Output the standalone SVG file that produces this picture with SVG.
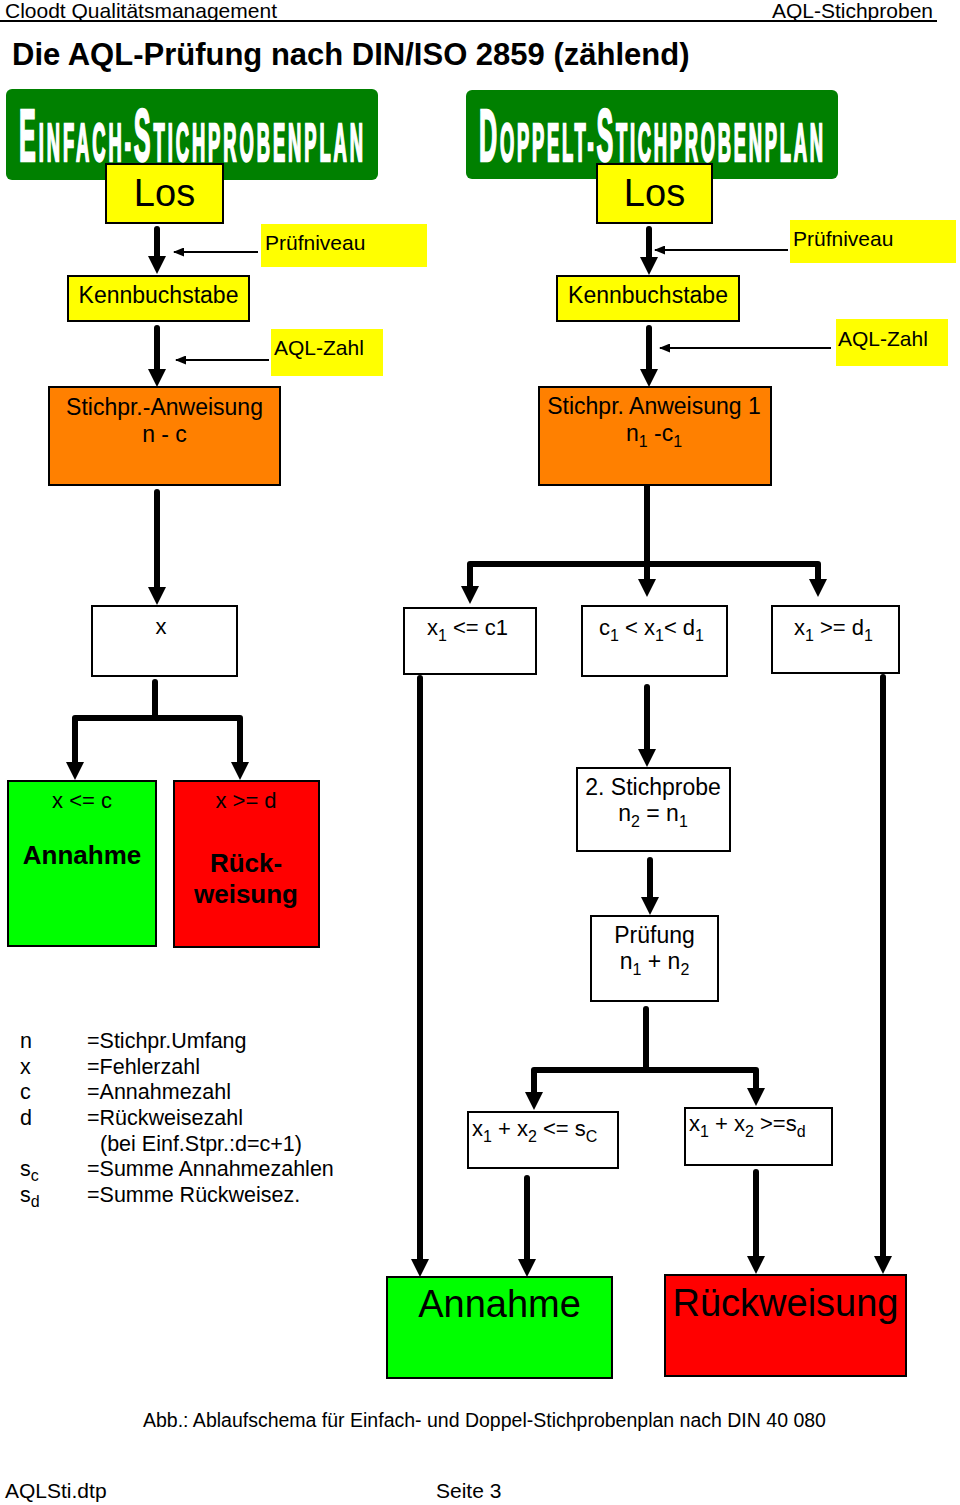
<svg xmlns="http://www.w3.org/2000/svg" width="960" height="1505" viewBox="0 0 960 1505">
<style>
text{font-family:"Liberation Sans",Arial,sans-serif;fill:#000}
.box{stroke:#000;stroke-width:2}
.yel{fill:#ffff00}
.org{fill:#ff8000}
.grn{fill:#00ff00}
.red{fill:#ff0000}
.wht{fill:#ffffff}
.thick{stroke:#000;stroke-width:6;fill:none;stroke-linecap:round;stroke-linejoin:round;marker-end:url(#ah)}
.bar{stroke:#000;stroke-width:6;fill:none;stroke-linecap:round;stroke-linejoin:round}
.thin{stroke:#000;stroke-width:2;fill:none;marker-end:url(#ahs)}
.t21{font-size:21px}
.t22{font-size:22px}
.t23{font-size:23px}
.t38{font-size:38px}
.b26{font-size:26px;font-weight:bold}
.mid{text-anchor:middle}
.sub{font-size:16px}
.ttl{fill:#fff;stroke:#fff;stroke-width:2.5;font-weight:bold}
</style>
<defs>
<marker id="ah" markerUnits="userSpaceOnUse" markerWidth="18" markerHeight="18" viewBox="0 0 18 18" refX="6" refY="9" orient="auto"><path d="M0,0 L18,9 L0,18 z" fill="#000"/></marker>
<marker id="ahs" markerUnits="userSpaceOnUse" markerWidth="11" markerHeight="9" viewBox="0 0 11 9" refX="10" refY="4.5" orient="auto"><path d="M0,0 L11,4.5 L0,9 z" fill="#000"/></marker>
</defs>
<rect width="960" height="1505" fill="#fff"/>

<g id="header">
<text class="t21" x="5" y="18">Cloodt Qualitätsmanagement</text>
<text class="t21" x="933" y="18" text-anchor="end">AQL-Stichproben</text>
<line x1="0" y1="21" x2="937" y2="21" stroke="#000" stroke-width="2"/>
<text x="12" y="65" font-size="31" font-weight="bold">Die AQL-Prüfung nach DIN/ISO 2859 (zählend)</text>
</g>

<g id="title-einfach">
<rect x="6" y="89" width="372" height="91" rx="6" fill="#008000"/>
<text class="ttl" transform="translate(19,161) scale(0.34,1)" textLength="1012" lengthAdjust="spacing"><tspan font-size="74">E</tspan><tspan font-size="54">INFACH-</tspan><tspan font-size="74">S</tspan><tspan font-size="54">TICHPROBENPLAN</tspan></text>
</g>
<g id="title-doppelt">
<rect x="466" y="90" width="372" height="89" rx="6" fill="#008000"/>
<text class="ttl" transform="translate(479,161) scale(0.34,1)" textLength="1012" lengthAdjust="spacing"><tspan font-size="74">D</tspan><tspan font-size="54">OPPELT-</tspan><tspan font-size="74">S</tspan><tspan font-size="54">TICHPROBENPLAN</tspan></text>
</g>

<g id="connectors">
<path class="thick" d="M157,229 V262"/>
<path class="thin" d="M258,252 H174"/>
<path class="thick" d="M157,328 V375"/>
<path class="thin" d="M269,360 H176"/>
<path class="thick" d="M157,492 V593"/>
<path class="bar" d="M155,682 V718"/>
<path class="thick" d="M155,718 H75 V768"/>
<path class="thick" d="M155,718 H240 V768"/>
<path class="thick" d="M649,229 V263"/>
<path class="thin" d="M788,250 H655"/>
<path class="thick" d="M649,328 V375"/>
<path class="thin" d="M831,348 H660"/>
<path class="thick" d="M647,485 V585"/>
<path class="thick" d="M647,564 H470 V592"/>
<path class="thick" d="M647,564 H818 V585"/>
<path class="thick" d="M420,678 V1265"/>
<path class="thick" d="M647,687 V755"/>
<path class="thick" d="M883,677 V1262"/>
<path class="thick" d="M650,860 V903"/>
<path class="bar" d="M646,1009 V1070"/>
<path class="thick" d="M646,1070 H534 V1098"/>
<path class="thick" d="M646,1070 H756 V1094"/>
<path class="thick" d="M527,1178 V1265"/>
<path class="thick" d="M756,1172 V1262"/>
</g>

<g id="los-l"><rect class="box yel" x="106" y="164" width="117" height="59"/><text class="t38 mid" x="164.5" y="206">Los</text></g>
<g id="los-r"><rect class="box yel" x="597" y="164" width="115" height="59"/><text class="t38 mid" x="654.5" y="206">Los</text></g>

<g id="pruefniveau-l"><rect class="yel" x="261" y="224" width="166" height="43"/><text class="t21" x="265" y="250">Prüfniveau</text></g>
<g id="pruefniveau-r"><rect class="yel" x="790" y="220" width="166" height="43"/><text class="t21" x="793" y="246">Prüfniveau</text></g>

<g id="kenn-l"><rect class="box yel" x="68" y="276" width="181" height="45"/><text class="t23 mid" x="158.5" y="303">Kennbuchstabe</text></g>
<g id="kenn-r"><rect class="box yel" x="557" y="276" width="182" height="45"/><text class="t23 mid" x="648" y="303">Kennbuchstabe</text></g>

<g id="aql-l"><rect class="yel" x="271" y="329" width="112" height="47"/><text class="t21" x="274" y="355">AQL-Zahl</text></g>
<g id="aql-r"><rect class="yel" x="836" y="319" width="112" height="47"/><text class="t21" x="838" y="346">AQL-Zahl</text></g>

<g id="anweisung-l"><rect class="box org" x="49" y="387" width="231" height="98"/>
<text class="t23 mid" x="164.5" y="415">Stichpr.-Anweisung</text>
<text class="t23 mid" x="164.5" y="442">n - c</text></g>
<g id="anweisung-r"><rect class="box org" x="539" y="387" width="232" height="98"/>
<text class="t23 mid" x="654" y="414">Stichpr. Anweisung 1</text>
<text class="t23 mid" x="654" y="441">n<tspan class="sub" dy="6">1</tspan><tspan dy="-6"> -c</tspan><tspan class="sub" dy="6">1</tspan></text></g>

<g id="x-box"><rect class="box wht" x="92" y="606" width="145" height="70"/><text class="t22 mid" x="161" y="634">x</text></g>
<g id="x1-le-c1"><rect class="box wht" x="404" y="608" width="132" height="66"/><text class="t22" x="427" y="635">x<tspan class="sub" dy="6">1</tspan><tspan dy="-6"> &lt;= c1</tspan></text></g>
<g id="c1-x1-d1"><rect class="box wht" x="582" y="606" width="145" height="70"/><text class="t22" x="599" y="635">c<tspan class="sub" dy="6">1</tspan><tspan dy="-6"> &lt; x</tspan><tspan class="sub" dy="6">1</tspan><tspan dy="-6">&lt; d</tspan><tspan class="sub" dy="6">1</tspan></text></g>
<g id="x1-ge-d1"><rect class="box wht" x="772" y="606" width="127" height="67"/><text class="t22" x="794" y="635">x<tspan class="sub" dy="6">1</tspan><tspan dy="-6"> &gt;= d</tspan><tspan class="sub" dy="6">1</tspan></text></g>

<g id="annahme-l"><rect class="box grn" x="8" y="781" width="148" height="165"/>
<text class="t22 mid" x="82" y="808">x &lt;= c</text>
<text class="b26 mid" x="82" y="864">Annahme</text></g>
<g id="rueck-l"><rect class="box red" x="174" y="781" width="145" height="166"/>
<text class="t22 mid" x="246" y="808">x &gt;= d</text>
<text class="b26 mid" x="246" y="872">Rück-</text>
<text class="b26 mid" x="246" y="903">weisung</text></g>

<g id="stichprobe2"><rect class="box wht" x="577" y="768" width="153" height="83"/>
<text class="t23 mid" x="653" y="795">2. Stichprobe</text>
<text class="t23 mid" x="653" y="821">n<tspan class="sub" dy="6">2</tspan><tspan dy="-6"> = n</tspan><tspan class="sub" dy="6">1</tspan></text></g>
<g id="pruefung"><rect class="box wht" x="591" y="916" width="127" height="85"/>
<text class="t23 mid" x="654.5" y="943">Prüfung</text>
<text class="t23 mid" x="654.5" y="969">n<tspan class="sub" dy="6">1</tspan><tspan dy="-6"> + n</tspan><tspan class="sub" dy="6">2</tspan></text></g>

<g id="sum-le-sc"><rect class="box wht" x="468" y="1112" width="150" height="56"/>
<text class="t22" x="472" y="1136">x<tspan class="sub" dy="6">1</tspan><tspan dy="-6"> + x</tspan><tspan class="sub" dy="6">2</tspan><tspan dy="-6"> &lt;= s</tspan><tspan class="sub" dy="6">C</tspan></text></g>
<g id="sum-ge-sd"><rect class="box wht" x="685" y="1108" width="147" height="57"/>
<text class="t22" x="689" y="1131">x<tspan class="sub" dy="6">1</tspan><tspan dy="-6"> + x</tspan><tspan class="sub" dy="6">2</tspan><tspan dy="-6"> &gt;=s</tspan><tspan class="sub" dy="6">d</tspan></text></g>

<g id="annahme-r"><rect class="box grn" x="387" y="1277" width="225" height="101"/><text class="t38 mid" x="499.5" y="1317">Annahme</text></g>
<g id="rueck-r"><rect class="box red" x="665" y="1275" width="241" height="101"/><text class="t38 mid" x="785.5" y="1316">Rückweisung</text></g>

<g id="legend" font-size="21.5">
<text x="20" y="1048">n</text><text x="87" y="1048">=Stichpr.Umfang</text>
<text x="20" y="1074">x</text><text x="87" y="1074">=Fehlerzahl</text>
<text x="20" y="1099">c</text><text x="87" y="1099">=Annahmezahl</text>
<text x="20" y="1125">d</text><text x="87" y="1125">=Rückweisezahl</text>
<text x="100" y="1151">(bei Einf.Stpr.:d=c+1)</text>
<text x="20" y="1176">s<tspan class="sub" dy="5">c</tspan></text><text x="87" y="1176">=Summe Annahmezahlen</text>
<text x="20" y="1202">s<tspan class="sub" dy="5">d</tspan></text><text x="87" y="1202">=Summe Rückweisez.</text>
</g>

<g id="footer">
<text x="143" y="1427" font-size="19.5">Abb.: Ablaufschema für Einfach- und Doppel-Stichprobenplan nach DIN 40 080</text>
<text class="t21" x="5" y="1498">AQLSti.dtp</text>
<text class="t21" x="436" y="1498">Seite 3</text>
</g>
</svg>
